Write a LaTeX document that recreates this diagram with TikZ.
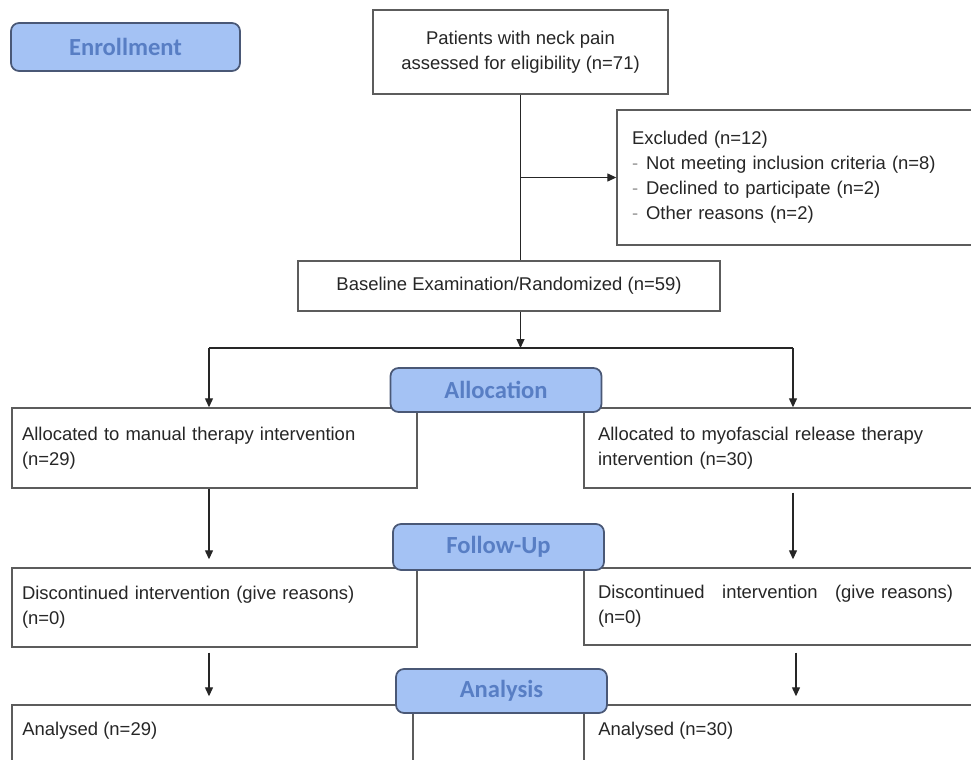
\documentclass[tikz,border=0pt]{standalone}
\usepackage{fontspec}
\setmainfont{Liberation Sans}
\newfontfamily\phasefont{Carlito}
\usepackage{tikz}
\usetikzlibrary{arrows.meta, positioning, calc}
\definecolor{phaseblue}{RGB}{164,194,244}
\definecolor{phasetext}{RGB}{88,126,196}
\definecolor{phaseedge}{RGB}{74,88,118}
\definecolor{boxgray}{RGB}{92,92,92}
\definecolor{inkgray}{RGB}{38,38,38}
\definecolor{dashgray}{RGB}{150,150,150}
\tikzset{
    flowbox/.style={rectangle, draw=boxgray, fill=white, line width=0.8pt, text=inkgray, inner sep=0pt, font=\fontsize{10.5}{14.2}\selectfont},
    flowtext/.style={inner sep=0pt, text=inkgray, font=\fontsize{10.5}{14.2}\selectfont},
    phasebox/.style={rectangle, rounded corners=0.16cm, draw=phaseedge, fill=phaseblue, line width=1pt, text=phasetext, minimum width=4.22cm, minimum height=0.88cm, font=\phasefont\bfseries\fontsize{14}{16}\selectfont},
    flowarrow/.style={-{Triangle[length=0.18cm, width=0.16cm]}, draw=inkgray, line width=0.7pt},
    flowline/.style={draw=inkgray, line width=0.7pt}
}
\newcommand{\bul}{\makebox[0.28cm][l]{\textcolor{dashgray}{-}}}

\begin{document}
\begin{tikzpicture}[
    x=0.02cm, y=-0.02cm,
    leftbox/.style={flowbox, minimum width=8.1cm, align=left, text width=7.7cm},
    rightbox/.style={flowbox, minimum width=8.02cm, align=left, text width=7.46cm}
]
\clip (0,0) rectangle (971,760);

\node[flowbox, minimum width=5.9cm, minimum height=1.68cm, align=center] (patients) at (520.5,52) {Patients with neck pain\\assessed for eligibility (n=71)};
\node[flowbox, minimum width=7.36cm, minimum height=2.7cm, align=left, text width=6.76cm] (excluded) at (801,177.5) {Excluded (n=12)\\\bul Not meeting inclusion criteria (n=8)\\\bul Declined to participate (n=2)\\\bul Other reasons (n=2)};
\node[flowbox, minimum width=8.44cm, minimum height=1cm] (baseline) at (509,286) {Baseline Examination/Randomized (n=59)};

\node[leftbox, minimum height=1.6cm] (allocL) at (214.5,448) {Allocated to manual therapy intervention\\(n=29)};
\node[rightbox, minimum height=1.6cm] (allocR) at (784.5,448) {Allocated to myofascial release therapy\\intervention (n=30)};
\node[leftbox, minimum height=1.58cm] (discL) at (214.5,607.5) {Discontinued intervention (give reasons)\\(n=0)};
\node[rightbox, minimum height=1.54cm] (discR) at (784.5,606.5) {\makebox[7.1cm][l]{Discontinued\hfill{} intervention\hfill{} (give reasons)}\\(n=0)};
\node[flowbox, minimum width=8.02cm, minimum height=1.4cm] (analL) at (212.5,740) {};
\node[flowbox, minimum width=8.02cm, minimum height=1.4cm] (analR) at (784.5,740) {};
\node[flowtext, anchor=west] (analLtext) at (22,731) {Analysed (n=29)};
\node[flowtext, anchor=west] (analRtext) at (598,731) {Analysed (n=30)};

\coordinate (split) at (patients.south |- excluded.west);
\coordinate (fork) at (patients.south |- 0,348);
\coordinate (forkL) at (209,348);
\coordinate (forkR) at (793,348);

\draw[flowline] (patients.south) -- (patients.south |- baseline.north);
\draw[flowarrow] (split) -- (excluded.west);
\draw[flowarrow] (patients.south |- baseline.south) -- (fork);
\draw[flowline] (forkL) -- (forkR);
\draw[flowarrow] (forkL) -- (forkL |- allocL.north);
\draw[flowarrow] (forkR) -- (forkR |- allocR.north);
\draw[flowarrow] (forkL |- allocL.south) -- ($(forkL |- discL.north)+(0,-8)$);
\draw[flowarrow] ($(forkR |- allocR.south)+(0,4)$) -- ($(forkR |- discR.north)+(0,-8)$);
\draw[flowarrow] ($(forkL |- discL.south)+(0,5)$) -- ($(forkL |- analL.north)+(0,-8)$);
\draw[flowarrow] ($(forkR |- discR.south)+(3,7)$) -- ($(forkR |- analR.north)+(3,-8)$);

\node[phasebox, minimum width=4.58cm, minimum height=0.96cm] (enrollment) at (125.5,47) {Enrollment};
\node[phasebox] (allocation) at (496,390) {Allocation};
\node[phasebox, minimum height=0.92cm] (followup) at (498.5,547) {Follow-Up};
\node[phasebox] (analysis) at (501.5,691) {Analysis};

\end{tikzpicture}
\end{document}
